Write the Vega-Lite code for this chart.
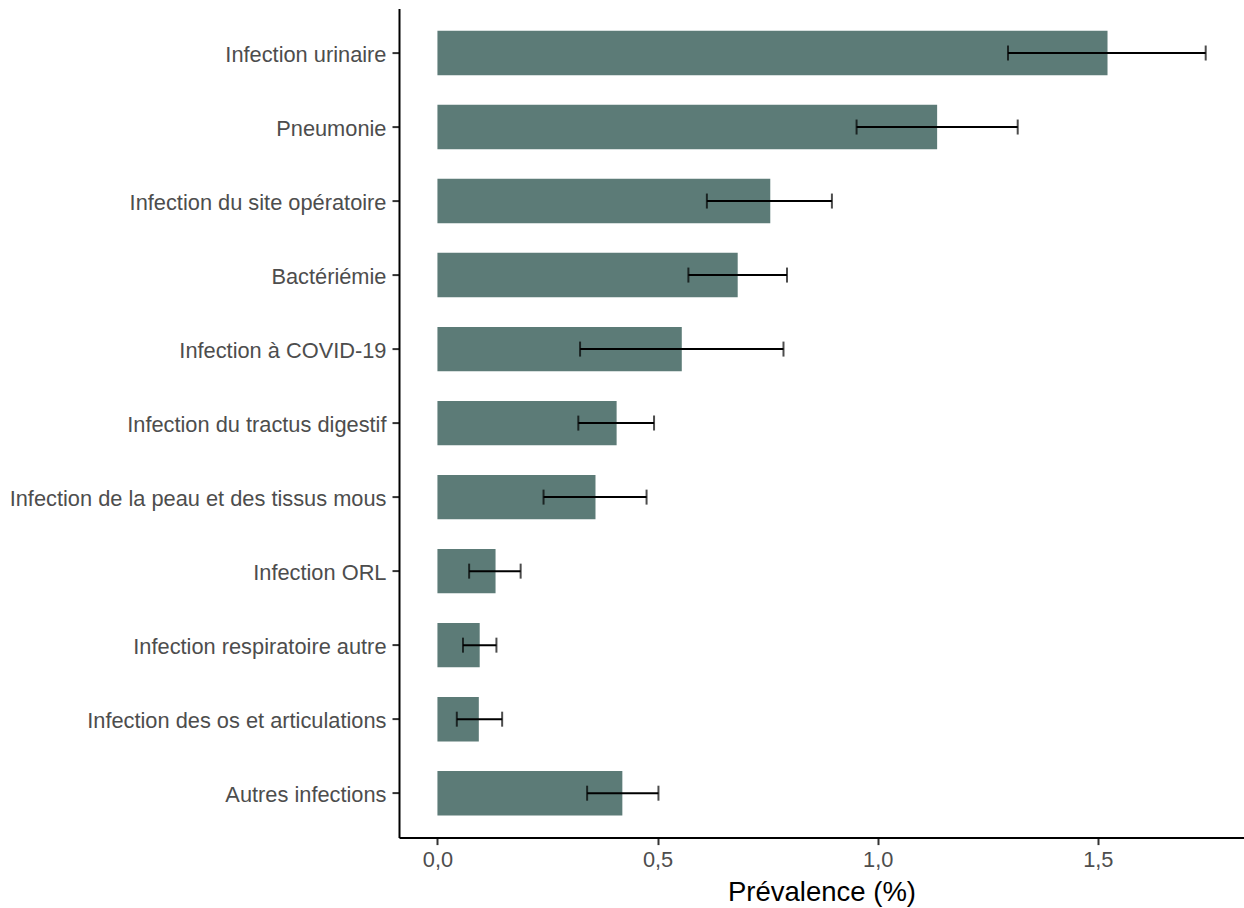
{
  "$schema": "https://vega.github.io/schema/vega-lite/v6.json",
  "autosize": {"type": "none"},
  "padding": {"left": 399, "top": 8.6, "right": 0, "bottom": 70.4},
  "width": 845,
  "height": 829,
  "background": "white",
  "config": {
    "view": {"stroke": null},
    "font": "Liberation Sans"
  },
  "data": {
    "values": [
      {"infection": "Infection urinaire", "prev": 1.522, "low": 1.296, "high": 1.745},
      {"infection": "Pneumonie", "prev": 1.135, "low": 0.952, "high": 1.318},
      {"infection": "Infection du site opératoire", "prev": 0.756, "low": 0.612, "high": 0.896},
      {"infection": "Bactériémie", "prev": 0.682, "low": 0.570, "high": 0.794},
      {"infection": "Infection à COVID-19", "prev": 0.555, "low": 0.324, "high": 0.786},
      {"infection": "Infection du tractus digestif", "prev": 0.407, "low": 0.320, "high": 0.492},
      {"infection": "Infection de la peau et des tissus mous", "prev": 0.359, "low": 0.241, "high": 0.475},
      {"infection": "Infection ORL", "prev": 0.132, "low": 0.072, "high": 0.189},
      {"infection": "Infection respiratoire autre", "prev": 0.096, "low": 0.058, "high": 0.134},
      {"infection": "Infection des os et articulations", "prev": 0.094, "low": 0.044, "high": 0.147},
      {"infection": "Autres infections", "prev": 0.420, "low": 0.340, "high": 0.502}
    ]
  },
  "encoding": {
    "y": {
      "field": "infection",
      "type": "nominal",
      "sort": null,
      "scale": {"paddingInner": 0.4, "paddingOuter": 0.3},
      "axis": {
        "title": null,
        "domainColor": "black",
        "domainWidth": 2,
        "tickColor": "#333333",
        "tickWidth": 2,
        "tickSize": 7,
        "labelColor": "#4D4D4D",
        "labelFontSize": 21.8,
        "labelFont": "Liberation Sans",
        "labelPadding": 6,
        "labelOffset": 2,
        "labelLimit": 0,
        "grid": false
      }
    }
  },
  "layer": [
    {
      "mark": {"type": "bar", "color": "#5C7B77"},
      "encoding": {
        "x": {
          "field": "prev",
          "type": "quantitative",
          "scale": {"domain": [-0.0873, 1.832], "nice": false, "zero": false},
          "axis": {
            "title": "Prévalence (%)",
            "titleFontSize": 27.5,
            "titleFont": "Liberation Sans",
            "titleFontWeight": "normal",
            "titleColor": "black",
            "titlePadding": 7,
            "values": [0, 0.5, 1, 1.5],
            "labelExpr": "replace(format(datum.value, '.1f'), '.', ',')",
            "domainColor": "black",
            "domainWidth": 2,
            "tickColor": "#333333",
            "tickWidth": 2,
            "tickSize": 7,
            "labelColor": "#4D4D4D",
            "labelFontSize": 21.8,
            "labelFont": "Liberation Sans",
            "labelPadding": 5,
            "grid": false
          }
        }
      }
    },
    {
      "mark": {"type": "rule", "color": "black", "strokeWidth": 2},
      "encoding": {
        "x": {"field": "low", "type": "quantitative"},
        "x2": {"field": "high"}
      }
    },
    {
      "mark": {"type": "tick", "color": "black", "thickness": 2, "size": 15, "orient": "vertical"},
      "encoding": {
        "x": {"field": "low", "type": "quantitative"}
      }
    },
    {
      "mark": {"type": "tick", "color": "black", "thickness": 2, "size": 15, "orient": "vertical"},
      "encoding": {
        "x": {"field": "high", "type": "quantitative"}
      }
    }
  ]
}
